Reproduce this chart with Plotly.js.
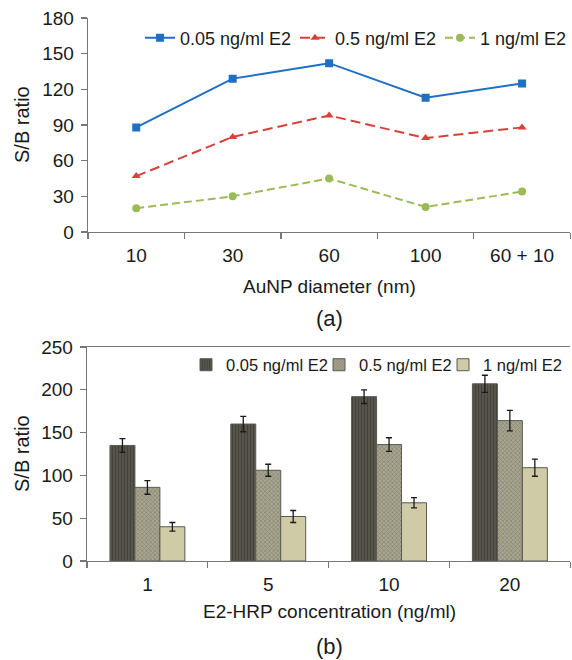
<!DOCTYPE html>
<html>
<head>
<meta charset="utf-8">
<script src="https://cdn.plot.ly/plotly-3.0.1.min.js"></script>
<style>html,body{margin:0;padding:0;background:#fff;}#chart{width:572px;height:660px;}</style>
</head>
<body>
<div id="chart"></div>
<script>
// Panel (a)
const diameters = ["10", "30", "60", "100", "60 + 10"];
const seriesNames = ["0.05 ng/ml E2", "0.5 ng/ml E2", "1 ng/ml E2"];
const sb005 = [88, 129, 142, 113, 125];
const sb05 = [47, 80, 98, 79, 88];
const sb1 = [20, 30, 45, 21, 34];

// Panel (b)
const concentrations = ["1", "5", "10", "20"];
const bar005 = [135, 160, 192, 207];
const bar05 = [86, 106, 136, 164];
const bar1 = [40, 52, 68, 109];
const err005 = [8, 9, 8, 10];
const err05 = [8, 7, 8, 12];
const err1 = [5, 7, 6, 10];

const H = 660, W = 572;
const py = v => 1 - v / H;
const px = v => v / W;

const FONT = "Liberation Sans, Arial, sans-serif";
const TXT = "#1a1a1a";
const AX = "#777777";

const lineStyles = [
  {color: "#1f6fc4", dash: "solid", symbol: "square", y: sb005, lx: 140},
  {color: "#d9403a", dash: "10px,5px", symbol: "triangle-up", y: sb05, lx: 295},
  {color: "#9bbb59", dash: "8px,4px", symbol: "circle", y: sb1, lx: 440}
];

const traces = [];
lineStyles.forEach((s, i) => {
  traces.push({
    type: "scatter", mode: "lines+markers",
    x: diameters, y: s.y, name: seriesNames[i],
    xaxis: "x", yaxis: "y", legend: i === 0 ? "legend" : "legend" + (i + 1),
    line: {color: s.color, width: 2, dash: s.dash},
    marker: {color: s.color, symbol: s.symbol, size: 8}
  });
});

const barStyles = [
  {y: bar005, e: err005, color: "#504d46", pattern: {shape: "|", fgcolor: "#423f38", bgcolor: "#57544c", size: 3, solidity: 0.3}, lx: 186},
  {y: bar05, e: err05, color: "#9e9b86", pattern: {shape: "x", fgcolor: "#85826f", bgcolor: "#a8a590", size: 3, solidity: 0.4}, lx: 319},
  {y: bar1, e: err1, color: "#d0cba7", pattern: null, lx: 443}
];

barStyles.forEach((s, i) => {
  const m = {color: s.color, line: {color: "#5a5a52", width: 1}};
  if (s.pattern) m.pattern = s.pattern;
  traces.push({
    type: "bar", x: concentrations, y: s.y, name: seriesNames[i],
    xaxis: "x2", yaxis: "y2", legend: "legend" + (i + 4),
    marker: m,
    error_y: {type: "data", array: s.e, visible: true, color: "#1a1a1a", thickness: 1.3, width: 3}
  });
});

const tickFont = {family: FONT, size: 19, color: TXT};

const axCommon = {
  showline: true, linecolor: AX, linewidth: 1.3,
  ticks: "outside", ticklen: 6, tickcolor: AX, tickwidth: 1.3,
  showgrid: false, zeroline: false, tickfont: tickFont
};

function ann(text, x, y, size, angle) {
  return {text: text, xref: "paper", yref: "paper", x: px(x), y: py(y),
    xanchor: "center", yanchor: "middle", textangle: angle || 0,
    showarrow: false, font: {family: FONT, size: size, color: TXT}};
}

const layout = {
  width: W, height: H,
  margin: {l: 0, r: 0, t: 0, b: 0},
  paper_bgcolor: "#fff", plot_bgcolor: "#fff",
  font: {family: FONT, color: TXT},
  barmode: "group", bargap: 0.38, bargroupgap: 0,
  showlegend: true,
  xaxis: Object.assign({}, axCommon, {
    domain: [px(88), 0.997], anchor: "y", type: "category",
    range: [-0.5, 4.5], tickson: "boundaries", ticklabelstandoff: 6
  }),
  yaxis: Object.assign({}, axCommon, {
    domain: [py(232), py(18)], anchor: "x",
    range: [0, 180], dtick: 30, ticklabelstandoff: 3
  }),
  xaxis2: Object.assign({}, axCommon, {
    domain: [px(87), 0.997], anchor: "y2", type: "category",
    range: [-0.5, 3.5], tickson: "boundaries", ticklabelstandoff: 6, mirror: true
  }),
  yaxis2: Object.assign({}, axCommon, {
    domain: [py(561), py(347)], anchor: "x2",
    range: [0, 250], dtick: 50, ticklabelstandoff: 3
  }),
  annotations: [
    ann("S/B ratio", 22, 125, 20, -90),
    ann("S/B ratio", 22, 454, 20, -90),
    ann("AuNP diameter (nm)", 330, 286, 19),
    ann("E2-HRP concentration (ng/ml)", 330, 611, 19),
    ann("(a)", 330, 318, 22),
    ann("(b)", 330, 646, 22)
  ]
};

lineStyles.forEach((s, i) => {
  layout[i === 0 ? "legend" : "legend" + (i + 1)] = {
    orientation: "h", x: px(s.lx), xanchor: "left", y: py(38), yanchor: "middle",
    font: {family: FONT, size: 18, color: TXT}, bgcolor: "rgba(0,0,0,0)", itemwidth: 30
  };
});
barStyles.forEach((s, i) => {
  layout["legend" + (i + 4)] = {
    orientation: "h", x: px(s.lx), xanchor: "left", y: py(365), yanchor: "middle",
    font: {family: FONT, size: 16.5, color: TXT}, bgcolor: "rgba(0,0,0,0)", itemwidth: 30
  };
});

Plotly.newPlot("chart", traces, layout, {staticPlot: true, displayModeBar: false});
</script>
</body>
</html>
